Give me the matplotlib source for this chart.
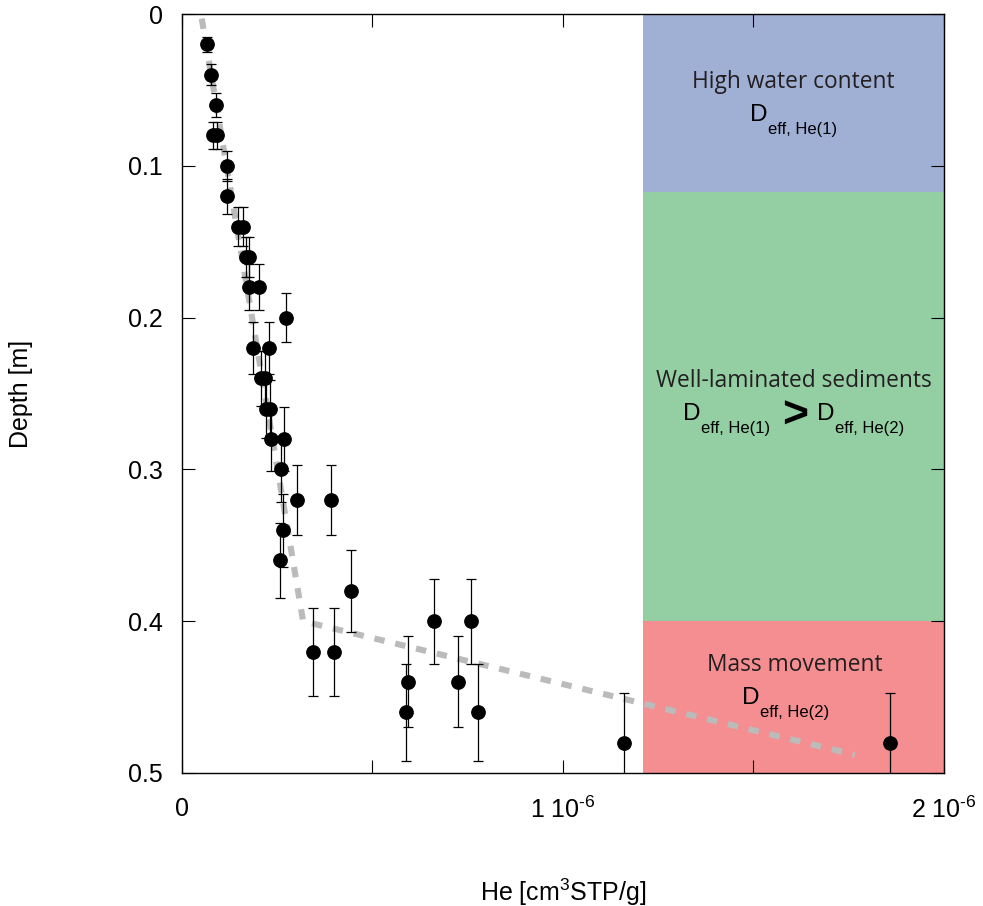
import matplotlib
matplotlib.use("Agg")
import matplotlib.pyplot as plt
import numpy as np

# Dados
depth = [0.02, 0.04, 0.06, 0.08, 0.08, 0.10, 0.12, 0.14, 0.14, 0.16, 0.16,
         0.18, 0.18, 0.20, 0.22, 0.22, 0.24, 0.24, 0.26, 0.26, 0.28, 0.28,
         0.30, 0.32, 0.32, 0.34, 0.36, 0.38, 0.40, 0.40, 0.42, 0.42, 0.44,
         0.44, 0.46, 0.46, 0.48, 0.48]
he = [0.066, 0.077, 0.090, 0.082, 0.092, 0.118, 0.119, 0.148, 0.161, 0.168,
      0.176, 0.176, 0.203, 0.274, 0.187, 0.228, 0.207, 0.218, 0.220, 0.231,
      0.235, 0.267, 0.260, 0.302, 0.390, 0.265, 0.258, 0.443, 0.661, 0.759,
      0.345, 0.399, 0.592, 0.725, 0.588, 0.776, 1.159, 1.858]  # x 1e-6
depth_err = [0.005, 0.007, 0.008, 0.009, 0.009, 0.010, 0.0115, 0.013, 0.013,
             0.013, 0.013, 0.015, 0.015, 0.016, 0.017, 0.017, 0.018, 0.018,
             0.019, 0.019, 0.021, 0.021, 0.0215, 0.023, 0.023, 0.024, 0.025,
             0.027, 0.028, 0.028, 0.029, 0.029, 0.030, 0.030, 0.032, 0.032,
             0.033, 0.033]

# modelo (linha tracejada)
model_he = [0.052, 0.318, 1.766]
model_depth = [0.003, 0.400, 0.488]

# zonas
zone_edges = [0.0, 0.117, 0.400, 0.5]
zone_colors = ["#A0AFD4", "#94CFA3", "#F48E91"]
zone_x0 = 1.21e-6

he = np.array(he) * 1e-6
model_he = np.array(model_he) * 1e-6

plt.rcParams['font.family'] = ['Liberation Sans', 'DejaVu Sans']
plt.rcParams['mathtext.fontset'] = 'custom'
plt.rcParams['mathtext.rm'] = 'Liberation Sans'
plt.rcParams['mathtext.it'] = 'Liberation Sans:italic'
plt.rcParams['mathtext.bf'] = 'Liberation Sans:bold'

# Figura
fig = plt.figure(figsize=(9.83, 9.06), dpi=100)
ax = fig.add_axes([0.1851, 0.1468, 0.7752, 0.8377])

xmin, xmax = 0, 2e-6
for i, c in enumerate(zone_colors):
    ax.axhspan(zone_edges[i], zone_edges[i + 1],
               xmin=(zone_x0 - xmin) / (xmax - xmin), xmax=1,
               color=c, lw=0, zorder=0)

ax.plot(model_he, model_depth, color="#BBBBBB", lw=4.4,
        linestyle=(0, (1.7, 1.8)), zorder=2)

ax.errorbar(he, depth, yerr=depth_err, fmt='o', color='black', ms=9.6,
            elinewidth=0.9, capsize=3.4, capthick=0.9, zorder=3)

# textos das zonas
box_font = dict(family=['Open Sans', 'DejaVu Sans'], color='#231F20', fontsize=16.4)
ax.text(1.604e-6, 0.0487, "High water content", ha='center', va='baseline', **box_font)
ax.text(1.605e-6, 0.2457, "Well-laminated sediments", ha='center', va='baseline', **box_font)
ax.text(1.608e-6, 0.4328, "Mass movement", ha='center', va='baseline', **box_font)

def deff(x, y, sub, dx=0.047e-6, dy=0.0088):
    ax.text(x, y, "D", fontsize=17.5, ha='left', va='baseline', color='black')
    ax.text(x + dx, y + dy, sub, fontsize=12, ha='left', va='baseline', color='black')

deff(1.491e-6, 0.0705, "eff, He(1)")
deff(1.315e-6, 0.2675, "eff, He(1)")
deff(1.667e-6, 0.2675, "eff, He(2)")
deff(1.471e-6, 0.4545, "eff, He(2)")
ax.text(1.609e-6, 0.2648, ">", fontsize=32, fontweight='bold', ha='center', va='center')

# Ajustes
ax.set_xlim(xmin, xmax)
ax.set_ylim(0.5, 0)
ax.set_xticks([0, 0.5e-6, 1e-6, 1.5e-6, 2e-6])
ax.set_xticklabels(["0", "", r"1 10$^{\text{-}6}$", "", r"2 10$^{\text{-}6}$"])
ax.set_yticks([0, 0.1, 0.2, 0.3, 0.4, 0.5])
ax.set_yticklabels(["0", "0.1", "0.2", "0.3", "0.4", "0.5"])
ax.tick_params(direction='in', length=9.4, width=0.8, top=True, right=True,
               labelsize=18)
ax.tick_params(axis='y', pad=13.5)
ax.tick_params(axis='x', pad=17)
for s in ax.spines.values():
    s.set_linewidth(1.0)

ax.set_xlabel(r"He [cm$^3$STP/g]", fontsize=18)
ax.set_ylabel("Depth [m]", fontsize=18)
ax.xaxis.set_label_coords(0.5, -0.136)
ax.yaxis.set_label_coords(-0.196, 0.5)

plt.savefig("out.png", dpi=100)
